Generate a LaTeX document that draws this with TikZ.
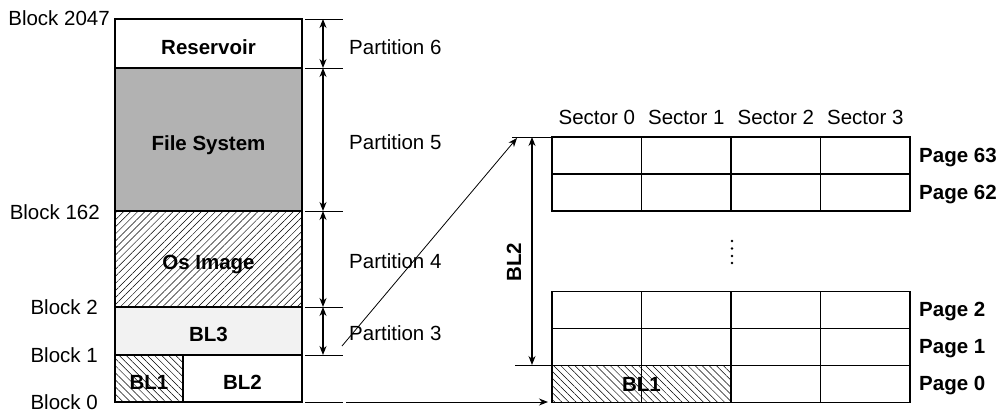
\documentclass[tikz,border=0pt]{standalone}
\usepackage{fontspec}
\setmainfont{Liberation Sans}
\usepackage{tikz}
\usetikzlibrary{
    positioning,
    arrows.meta,
    patterns.meta
}
\tikzset{
    >=Stealth,
    every node/.style={
        font=\fontsize{20.5}{24}\selectfont
    },
    block/.style={
        draw,
        line width=1.2pt,
        inner sep=0pt,
        minimum width=187pt,
        text height=21pt,
        text depth=0pt,
        font=\fontsize{20.5}{24}\selectfont\bfseries
    },
    cell/.style={
        draw,
        line width=1.2pt,
        inner sep=0pt,
        minimum width=89.5pt,
        minimum height=37pt
    },
    hatchup/.style={
        pattern={Lines[angle=45,distance=5pt,line width=0.5pt]}
    },
    hatchdown/.style={
        pattern={Lines[angle=-45,distance=5pt,line width=0.5pt]}
    },
    dimtick/.style={line width=1pt},
    dimarrow/.style={<->, line width=1.2pt},
    boldlabel/.style={font=\fontsize{20.5}{24}\selectfont\bfseries}
}

\begin{document}
\begin{tikzpicture}[
    x=1pt,
    y=-1pt,
    >={Stealth[length=9pt,width=7pt]}
]

    \useasboundingbox (0,0) rectangle (1002,413);

    % Bloques
    \node[block, minimum height=49pt]                    (res) at (208.5,43.5) {Reservoir};
    \node[block, minimum height=143pt, fill=gray!60]     (fs)  at (208.5,139.5) {File System};
    \node[block, minimum height=96pt, hatchup]           (os)  at (208.5,259) {Os Image};
    \node[block, minimum height=48pt, fill=gray!10]      (bl3) at (208.5,331) {BL3};
    \node[block, minimum height=47pt, minimum width=68pt, hatchdown] (bl1) at (149,378.5) {BL1};
    \node[block, minimum height=47pt, minimum width=119pt] (bl2) at (242.5,378.5) {BL2};

    % Numeros de bloque
    \node[anchor=east, inner sep=0pt] (b2047) at (110,18)  {Block 2047};
    \node[anchor=east, inner sep=0pt] (b162)  at (100,212) {Block 162};
    \node[anchor=east, inner sep=0pt] (b2)    at (98,307)  {Block 2};
    \node[anchor=east, inner sep=0pt] (b1)    at (98,355)  {Block 1};
    \node[anchor=east, inner sep=0pt] (b0)    at (98,402)  {Block 0};

    % Particiones
    \foreach \n/\y in {0/19, 1/68, 2/211, 3/307, 4/355, 5/402} {
        \coordinate (ta\n) at (305,\y);
        \coordinate (tb\n) at (343,\y);
        \coordinate (tm\n) at (323,\y);
        \draw[dimtick] (ta\n) -- (tb\n);
    }
    \draw[dimarrow] (tm0) -- (tm1);
    \draw[dimarrow] (tm1) -- (tm2);
    \draw[dimarrow] (tm2) -- (tm3);
    \draw[dimarrow] (tm3) -- (tm4);

    \node[anchor=west, inner sep=0pt] (p6) at (349,47)  {Partition 6};
    \node[anchor=west, inner sep=0pt] (p5) at (349,142) {Partition 5};
    \node[anchor=west, inner sep=0pt] (p4) at (349,261) {Partition 4};
    \node[anchor=west, inner sep=0pt] (p3) at (349,333) {Partition 3};

    % Paginas de BL2
    \node[hatchdown, minimum width=179pt, minimum height=37pt, inner sep=0pt,
          boldlabel] (pbl1) at (641.5,384) {BL1};
    \foreach \r/\y in {63/155.5, 62/192.5, 2/310, 1/347, 0/384} {
        \foreach \c in {0,...,3} {
            \node[cell] (c\r-\c) at ({596.75+89.5*\c},\y) {};
        }
        \node[boldlabel, anchor=west, inner sep=0pt] (pg\r) at (919,\y+2) {Page \r};
    }
    \foreach \c in {0,...,3} {
        \node (s\c) at ({596.75+89.5*\c},117) {Sector \c};
    }
    \foreach \y in {241,248.5,256,263} {
        \fill (732,\y) circle (1.3pt);
    }

    % Cota BL2
    \coordinate (ua) at (512,137);
    \coordinate (ub) at (551,137);
    \coordinate (um) at (532,137);
    \coordinate (la) at (515,365);
    \coordinate (lb) at (553,365);
    \coordinate (lm) at (532,365);
    \draw[dimtick] (ua) -- (ub);
    \draw[dimtick] (la) -- (lb);
    \draw[dimarrow] (um) -- (lm);
    \node[boldlabel, rotate=90] (bl2lbl) at (514,262) {BL2};

    % Flechas
    \coordinate (d0) at (342,346);
    \coordinate (d1) at (517,138);
    \coordinate (h0) at (346,402);
    \coordinate (h1) at (548,402);
    \draw[->, line width=0.8pt] (d0) -- (d1);
    \draw[->, line width=1pt] (h0) -- (h1);

\end{tikzpicture}
\end{document}
